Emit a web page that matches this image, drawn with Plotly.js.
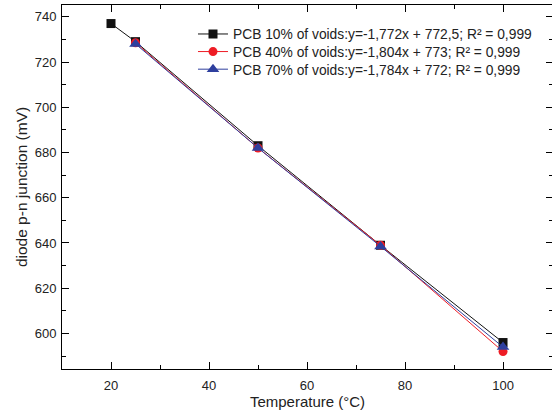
<!DOCTYPE html>
<html>
<head>
<meta charset="utf-8">
<script src="https://cdn.plot.ly/plotly-3.0.1.min.js"></script>
<style>html,body{margin:0;padding:0;background:#fff;overflow:hidden;width:552px;height:414px;}#chart{width:565px;height:414px;}</style>
</head>
<body>
<div id="chart"></div>
<script>
const names = [
  "PCB 10% of voids:y=-1,772x + 772,5; R² = 0,999",
  "PCB 40% of voids:y=-1,804x + 773; R² = 0,999",
  "PCB 70% of voids:y=-1,784x + 772; R² = 0,999"
];
const temp10 = [20, 25, 50, 75, 100];
const volt10 = [737, 729, 683, 639, 596];
const temp40 = [25, 50, 75, 100];
const volt40 = [728.5, 682, 639, 592];
const temp70 = [25, 50, 75, 100];
const volt70 = [728, 682, 638.5, 594];
const colors = ["#111111", "#ee1c25", "#2e3f9e"];
const symbols = ["square", "circle", "triangle-up"];
const legendIds = ["legend", "legend2", "legend3"];

const xs = [temp10, temp40, temp70];
const ys = [volt10, volt40, volt70];
const traces = xs.map((x, i) => ({
  type: "scatter", mode: "lines+markers", x: x, y: ys[i], name: names[i],
  legend: legendIds[i],
  line: {color: colors[i], width: 1},
  marker: {symbol: symbols[i], size: i === 2 ? 11 : 9, color: colors[i]}
}));

const FONT = "Liberation Sans, Arial, sans-serif";
const axisCommon = {
  showline: true, mirror: "ticks", linecolor: "#000", linewidth: 1,
  ticks: "inside", ticklen: 7, tickwidth: 1, tickcolor: "#000",
  showgrid: false, zeroline: false,
  tickfont: {family: FONT, size: 13, color: "#222"},
  minor: {ticks: "inside", ticklen: 4, tickwidth: 1, tickcolor: "#000", showgrid: false}
};

function legendAt(yFrac) {
  return {x: 0.2668, y: yFrac, xanchor: "left", yanchor: "middle", bgcolor: "rgba(0,0,0,0)",
    font: {family: FONT, size: 13.8, color: "#222"}};
}

const layout = {
  width: 565, height: 414,
  margin: {l: 62, r: 12, t: 5, b: 45},
  paper_bgcolor: "#fff", plot_bgcolor: "#fff",
  showlegend: true,
  legend: legendAt(0.9203),
  legend2: legendAt(0.872),
  legend3: legendAt(0.8236),
  xaxis: Object.assign({}, axisCommon, {
    range: [10, 110.2], tickvals: [20, 40, 60, 80, 100], ticklabelstandoff: 4,
    minor: Object.assign({}, axisCommon.minor, {dtick: 10, tick0: 0}),
    title: {text: "Temperature (°C)", standoff: 3,
      font: {family: FONT, size: 15, color: "#222"}}
  }),
  yaxis: Object.assign({}, axisCommon, {
    range: [584.3, 745.2], tickvals: [600, 620, 640, 660, 680, 700, 720, 740], ticklabelstandoff: 2,
    minor: Object.assign({}, axisCommon.minor, {dtick: 10, tick0: 0}),
    title: {text: "diode p-n junction (mV)", standoff: 3,
      font: {family: FONT, size: 15.5, color: "#222"}}
  })
};

Plotly.newPlot("chart", traces, layout, {displayModeBar: false, staticPlot: true});
</script>
</body>
</html>
